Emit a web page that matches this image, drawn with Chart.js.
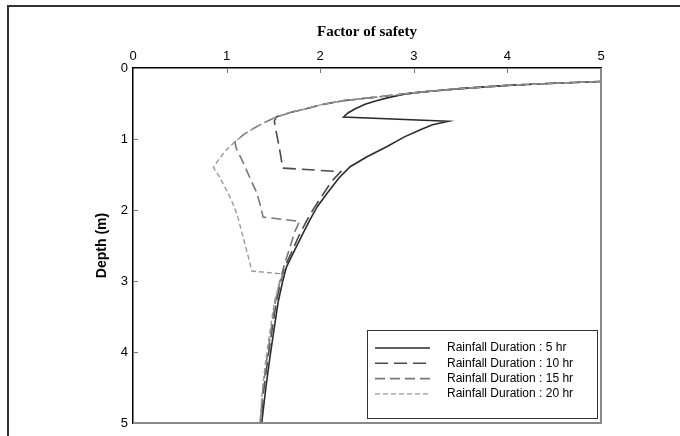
<!DOCTYPE html>
<html>
<head>
<meta charset="utf-8">
<script src="https://cdn.jsdelivr.net/npm/chart.js@4.4.0/dist/chart.umd.min.js"></script>
<style>
  html, body { margin: 0; padding: 0; background: #fff; }
  #wrap { width: 680px; height: 436px; }
</style>
</head>
<body>
<div id="wrap"><canvas id="graph" width="680" height="436"></canvas></div>
<script>
// Valores: fator de segurança (x) e profundidade em m (y)
const xTicks = [0, 1, 2, 3, 4, 5];
const yTicks = [0, 1, 2, 3, 4, 5];
const labels = ['Rainfall Duration : 5 hr', 'Rainfall Duration : 10 hr', 'Rainfall Duration : 15 hr', 'Rainfall Duration : 20 hr'];

// trecho superior comum a todas as curvas
const fsTop = [5, 4.5, 4, 3.5, 3.2, 3];
const depthTop = [0.19, 0.215, 0.245, 0.29, 0.325, 0.35];

const fs5 = [2.9, 2.75, 2.6, 2.48, 2.38, 2.3, 2.25, 3.37, 3.2, 3.07, 2.9, 2.71, 2.5, 2.32, 2.2, 2.07, 1.97, 1.89, 1.8, 1.71, 1.64, 1.6, 1.55, 1.5, 1.46, 1.42, 1.375];
const depth5 = [0.37, 0.41, 0.46, 0.51, 0.57, 0.63, 0.69, 0.75, 0.8, 0.87, 0.97, 1.11, 1.25, 1.39, 1.55, 1.77, 1.95, 2.14, 2.37, 2.61, 2.8, 3.0, 3.3, 3.74, 4.1, 4.5, 5];

const fs10 = [2.6, 2.25, 2.0, 1.86, 1.7, 1.53, 1.51, 1.53, 1.56, 1.58, 1.6, 2.22, 2.12, 2.02, 1.93, 1.86, 1.77, 1.69, 1.62, 1.58, 1.53, 1.48, 1.44, 1.4, 1.365];
const depth10 = [0.41, 0.46, 0.52, 0.57, 0.62, 0.69, 0.75, 0.9, 1.1, 1.25, 1.41, 1.46, 1.6, 1.8, 1.98, 2.14, 2.37, 2.61, 2.8, 3.0, 3.3, 3.74, 4.1, 4.5, 5];

const fs15 = [2.6, 2.25, 2.0, 1.86, 1.7, 1.53, 1.4, 1.29, 1.18, 1.09, 1.1, 1.18, 1.25, 1.32, 1.36, 1.39, 1.78, 1.73, 1.67, 1.61, 1.57, 1.52, 1.47, 1.43, 1.39, 1.36];
const depth15 = [0.41, 0.46, 0.52, 0.57, 0.62, 0.69, 0.77, 0.85, 0.94, 1.04, 1.12, 1.34, 1.55, 1.75, 1.93, 2.1, 2.16, 2.3, 2.55, 2.8, 3.0, 3.3, 3.74, 4.1, 4.5, 5];

const fs20 = [2.6, 2.25, 2.0, 1.86, 1.7, 1.53, 1.4, 1.29, 1.18, 1.09, 1.03, 0.98, 0.92, 0.86, 0.91, 0.97, 1.03, 1.08, 1.12, 1.16, 1.2, 1.23, 1.27, 1.6, 1.56, 1.51, 1.46, 1.42, 1.385, 1.355];
const depth20 = [0.41, 0.46, 0.52, 0.57, 0.62, 0.69, 0.77, 0.85, 0.94, 1.04, 1.11, 1.18, 1.28, 1.4, 1.5, 1.65, 1.8, 1.95, 2.1, 2.3, 2.5, 2.65, 2.86, 2.9, 3.05, 3.3, 3.74, 4.1, 4.5, 5];

function pts(xs, ys) {
    const all = fsTop.concat(xs);
    const dep = depthTop.concat(ys);
    return all.map((x, i) => ({ x: x, y: dep[i] }));
}

// Moldura, ticks internos, bordas cinza e legenda dentro da área do gráfico
const extras = {
    id: 'extras',
    beforeDraw(chart) {
        const ctx = chart.ctx;
        ctx.save();
        ctx.fillStyle = '#fff';
        ctx.fillRect(0, 0, chart.width, chart.height);
        ctx.strokeStyle = '#333';
        ctx.lineWidth = 2;
        ctx.beginPath();
        ctx.moveTo(8, 436);
        ctx.lineTo(8, 6);
        ctx.lineTo(680, 6);
        ctx.stroke();
        ctx.restore();
    },
    afterDraw(chart) {
        const ctx = chart.ctx;
        const a = chart.chartArea;
        const sx = chart.scales.x, sy = chart.scales.y;
        ctx.save();
        ctx.strokeStyle = '#888';
        ctx.lineWidth = 2;
        ctx.beginPath();
        ctx.moveTo(a.left, a.bottom);
        ctx.lineTo(a.right, a.bottom);
        ctx.lineTo(a.right, a.top);
        ctx.stroke();

        ctx.lineWidth = 1;
        ctx.strokeStyle = '#777';
        xTicks.slice(1, -1).forEach(v => {
            const px = Math.round(sx.getPixelForValue(v)) + 0.5;
            ctx.beginPath();
            ctx.moveTo(px, a.top);
            ctx.lineTo(px, a.top + 5);
            ctx.stroke();
        });
        yTicks.slice(1, -1).forEach(v => {
            const py = Math.round(sy.getPixelForValue(v)) + 0.5;
            ctx.beginPath();
            ctx.moveTo(a.left, py);
            ctx.lineTo(a.left + 5, py);
            ctx.stroke();
        });

        // legenda
        const bx = 367, by = 330, bw = 230, bh = 88;
        ctx.fillStyle = '#fff';
        ctx.fillRect(bx, by, bw, bh);
        ctx.strokeStyle = '#333';
        ctx.strokeRect(bx + 0.5, by + 0.5, bw, bh);
        ctx.font = '12px Arial, "Liberation Sans", sans-serif';
        ctx.textBaseline = 'middle';
        chart.data.datasets.forEach((ds, i) => {
            const ry = 348 + i * 15.3;
            ctx.strokeStyle = ds.borderColor;
            ctx.lineWidth = ds.borderWidth;
            ctx.setLineDash(ds.borderDash);
            ctx.beginPath();
            ctx.moveTo(375, ry);
            ctx.lineTo(430, ry);
            ctx.stroke();
            ctx.setLineDash([]);
            ctx.fillStyle = '#000';
            ctx.fillText(ds.label, 447, ry);
        });
        ctx.restore();
    }
};

new Chart(document.getElementById('graph').getContext('2d'), {
    type: 'scatter',
    data: {
        datasets: [
            { label: labels[0], data: pts(fs5, depth5), borderColor: '#2b2b2b', borderWidth: 1.6, borderDash: [], order: 3 },
            { label: labels[1], data: pts(fs10, depth10), borderColor: '#4a4a4a', borderWidth: 1.6, borderDash: [13, 6], order: 2 },
            { label: labels[2], data: pts(fs15, depth15), borderColor: '#777', borderWidth: 1.6, borderDash: [10, 5], order: 1 },
            { label: labels[3], data: pts(fs20, depth20), borderColor: '#999', borderWidth: 1.4, borderDash: [5, 3], order: 0 }
        ].map(d => Object.assign(d, { showLine: true, pointRadius: 0, tension: 0, fill: false }))
    },
    options: {
        responsive: false,
        animation: false,
        layout: { padding: { left: 0, right: 79, top: 0, bottom: 13 } },
        plugins: { legend: { display: false }, tooltip: { enabled: false } },
        scales: {
            x: {
                type: 'linear', position: 'top', min: 0, max: 5,
                afterFit: s => { s.height = 68; },
                afterBuildTicks: s => { s.ticks = xTicks.map(v => ({ value: v })); },
                ticks: { color: '#000', padding: 4, font: { size: 13, family: 'Arial, "Liberation Sans", sans-serif' } },
                grid: { display: true, drawOnChartArea: false, drawTicks: false },
                border: { color: '#000', width: 1.5 },
                title: {
                    display: true, text: 'Factor of safety', color: '#000',
                    padding: { top: 23, bottom: 0 },
                    font: { size: 15, weight: 'bold', family: '"Liberation Serif", "Times New Roman", serif' }
                }
            },
            y: {
                type: 'linear', reverse: true, min: 0, max: 5,
                afterFit: s => { s.width = 133; },
                afterBuildTicks: s => { s.ticks = yTicks.map(v => ({ value: v })); },
                ticks: { color: '#000', padding: 5, font: { size: 13, family: 'Arial, "Liberation Sans", sans-serif' } },
                grid: { display: true, drawOnChartArea: false, drawTicks: false },
                border: { color: '#000', width: 1.5 },
                title: {
                    display: true, text: 'Depth (m)', color: '#000',
                    padding: { top: 94, bottom: 0 },
                    font: { size: 14, weight: 'bold', family: 'Arial, "Liberation Sans", sans-serif' }
                }
            }
        }
    },
    plugins: [extras]
});
</script>
</body>
</html>
